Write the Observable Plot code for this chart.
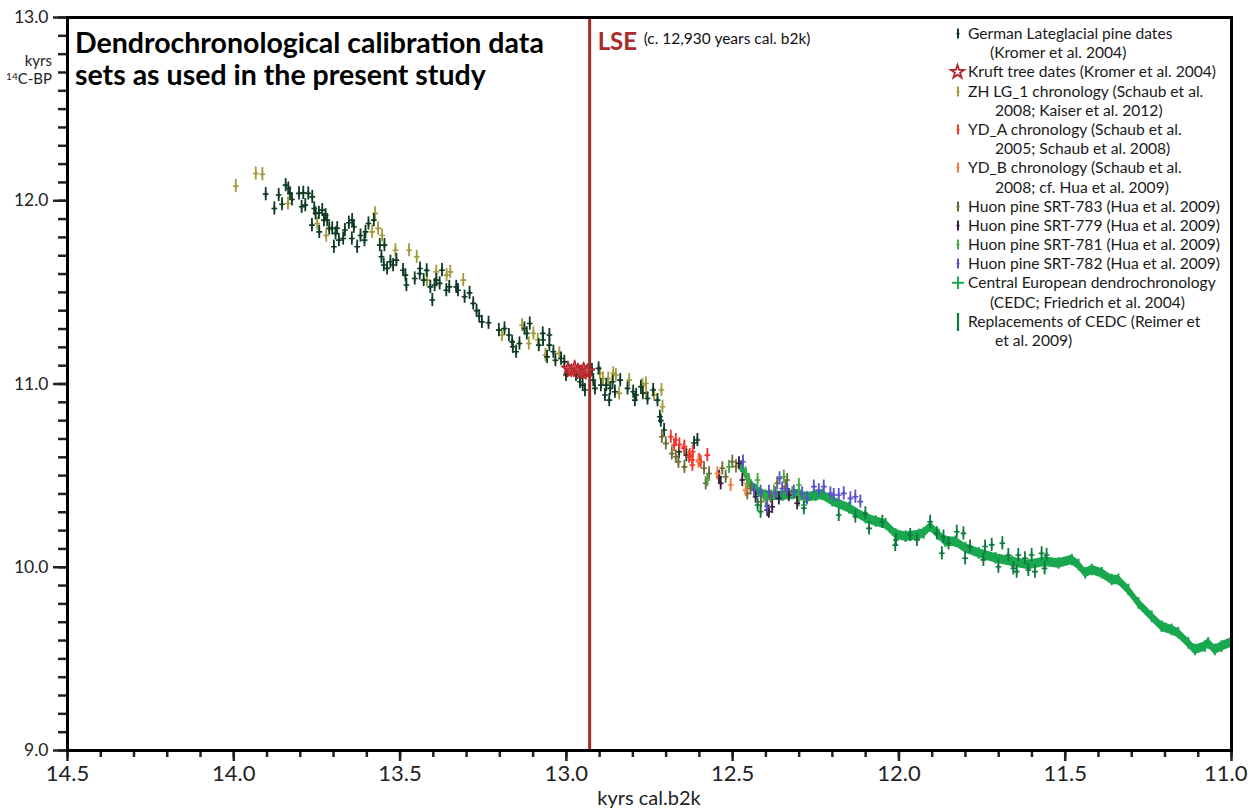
<!DOCTYPE html>
<html>
<head>
<meta charset="utf-8">
<script src="https://cdn.jsdelivr.net/npm/d3@7"></script>
<script src="https://cdn.jsdelivr.net/npm/@observablehq/plot@0.6"></script>
<style>
  html, body { margin: 0; padding: 0; background: #fff; }
  #wrap { position: relative; width: 1248px; height: 809px; overflow: hidden; font-family: Lato, "Open Sans", sans-serif; }
  #chart svg { display: block; }
  #legend { position: absolute; left: 946px; top: 24px; font-size: 15.6px; color: #1a1a1a; line-height: 19.2px; }
  .row { display: flex; align-items: center; height: 19.2px; white-space: nowrap; }
  .g { width: 22px; height: 19.2px; display: inline-block; flex: none; }
  .title { position: absolute; left: 75px; top: 26px; font-size: 28.5px; font-weight: bold; line-height: 32px; color: #000; white-space: nowrap; }
  .yunit { position: absolute; right: 1196px; font-size: 15px; color: #222; text-align: right; white-space: nowrap; line-height: 16px; }
  .xlab { position: absolute; left: 649px; top: 785px; transform: translateX(-50%); font-size: 20px; color: #222; white-space: nowrap; }
</style>
</head>
<body>
<div id="wrap">
  <div id="chart"></div>
  <div class="title">Dendrochronological calibration data<br>sets as used in the present study</div>
  <div class="yunit" style="top:52px">kyrs</div>
  <div class="yunit" style="top:68px"><span style="font-size:10px;vertical-align:4px">14</span>C-BP</div>
  <div class="xlab">kyrs cal.b2k</div>
  <div id="legend"></div>
</div>
<script>
// ---- data: [kyrs cal. b2k, kyrs 14C BP] ----
const germanPine = [[13.904,12.036],[13.878,11.958],[13.865,12.031],[13.855,11.981],[13.844,12.085],[13.836,12.067],[13.831,12.040],[13.825,12.007],[13.804,12.040],[13.796,11.967],[13.791,12.043],[13.785,11.976],[13.776,12.040],[13.764,12.021],[13.758,11.958],[13.765,11.867],[13.754,11.931],[13.744,11.934],[13.743,11.830],[13.734,11.949],[13.729,11.894],[13.724,11.921],[13.719,11.894],[13.713,11.849],[13.704,11.849],[13.699,11.749],[13.694,11.822],[13.689,11.850],[13.684,11.785],[13.671,11.794],[13.666,11.840],[13.654,11.880],[13.645,11.794],[13.644,11.894],[13.639,11.858],[13.629,11.749],[13.619,11.810],[13.607,11.785],[13.604,11.830],[13.595,11.876],[13.579,11.894],[13.561,11.758],[13.556,11.694],[13.547,11.758],[13.549,11.649],[13.539,11.631],[13.529,11.667],[13.521,11.649],[13.511,11.676],[13.491,11.621],[13.484,11.594],[13.481,11.540],[13.456,11.576],[13.441,11.603],[13.440,11.630],[13.429,11.567],[13.420,11.620],[13.409,11.530],[13.403,11.458],[13.396,11.540],[13.391,11.567],[13.381,11.549],[13.374,11.621],[13.361,11.512],[13.352,11.530],[13.331,11.530],[13.326,11.512],[13.306,11.476],[13.291,11.497],[13.280,11.440],[13.270,11.400],[13.262,11.370],[13.254,11.339],[13.234,11.334],[13.203,11.294],[13.186,11.303],[13.173,11.267],[13.163,11.230],[13.161,11.203],[13.151,11.176],[13.141,11.221],[13.126,11.303],[13.119,11.276],[13.110,11.330],[13.083,11.212],[13.071,11.276],[13.070,11.240],[13.051,11.267],[13.051,11.212],[13.058,11.148],[13.039,11.176],[13.033,11.130],[13.016,11.139],[13.006,11.121],[13.001,11.049],[12.994,11.076],[12.971,11.049],[12.959,11.012],[12.951,10.994],[12.944,10.967],[12.923,11.076],[12.919,11.021],[12.914,10.976],[12.903,11.085],[12.896,10.994],[12.884,10.940],[12.880,10.994],[12.871,10.912],[12.868,10.976],[12.861,11.012],[12.854,10.958],[12.838,11.021],[12.816,10.976],[12.799,10.958],[12.794,10.912],[12.790,10.940],[12.776,10.985],[12.770,10.950],[12.756,10.921],[12.739,10.967],[12.726,10.912],[12.719,10.821],[12.716,10.800],[12.706,10.749],[12.661,10.630],[12.639,10.612],[12.616,10.678],[12.606,10.694]];
const kruftTrees = [[12.995,11.085],[12.985,11.070],[12.975,11.090],[12.965,11.075],[12.955,11.060],[12.948,11.080],[12.940,11.065],[12.935,11.072]];
const zhLG1 = [[13.994,12.080],[13.934,12.149],[13.914,12.145],[13.837,11.985],[13.749,11.876],[13.722,11.810],[13.584,11.830],[13.575,11.931],[13.566,11.849],[13.554,11.810],[13.514,11.730],[13.473,11.730],[13.450,11.694],[13.419,11.567],[13.391,11.612],[13.360,11.594],[13.349,11.612],[13.310,11.567],[13.194,11.267],[13.133,11.321],[13.113,11.221],[13.099,11.276],[13.086,11.240],[13.063,11.158],[13.021,11.167],[12.941,11.058],[12.899,11.058],[12.890,11.030],[12.874,11.030],[12.859,11.058],[12.851,11.049],[12.841,10.949],[12.811,11.021],[12.771,10.994],[12.761,11.003],[12.760,10.950],[12.736,10.940],[12.714,10.967],[12.711,10.876]];
const ydA = [[12.686,10.712],[12.676,10.667],[12.671,10.694],[12.660,10.670],[12.646,10.649],[12.645,10.658],[12.631,10.603],[12.629,10.612],[12.621,10.585],[12.621,10.558],[12.620,10.630],[12.601,10.585],[12.596,10.576],[12.576,10.612]];
const ydB = [[12.603,10.576],[12.546,10.512],[12.506,10.449],[12.461,10.421]];
const srt783 = [[12.713,10.712],[12.701,10.676],[12.683,10.621],[12.671,10.603],[12.663,10.576],[12.645,10.548],[12.586,10.540],[12.581,10.458],[12.571,10.512],[12.540,10.490],[12.531,10.540],[12.521,10.494],[12.501,10.576],[12.490,10.550],[12.456,10.403],[12.446,10.430],[12.415,10.358],[12.386,10.385],[12.366,10.458],[12.341,10.440],[12.336,10.476]];
const srt779 = [[12.541,10.494],[12.536,10.458],[12.481,10.567],[12.471,10.476],[12.431,10.385],[12.396,10.312],[12.391,10.303],[12.381,10.330],[12.361,10.376],[12.331,10.394],[12.306,10.349]];
const srt781 = [[12.576,10.476],[12.511,10.548],[12.461,10.512],[12.456,10.458],[12.451,10.476],[12.425,10.476],[12.401,10.367],[12.376,10.412],[12.346,10.494],[12.321,10.403],[12.301,10.367],[12.301,10.449],[12.286,10.340]];
const srt782 = [[12.469,10.576],[12.436,10.421],[12.416,10.412],[12.396,10.330],[12.391,10.412],[12.371,10.403],[12.359,10.485],[12.351,10.430],[12.336,10.421],[12.316,10.412],[12.291,10.403],[12.276,10.376],[12.256,10.440],[12.241,10.420],[12.226,10.440],[12.206,10.403],[12.196,10.394],[12.181,10.394],[12.166,10.403],[12.146,10.376],[12.131,10.385],[12.116,10.358]];
const cedc = [[12.475,10.550],[12.460,10.505],[12.450,10.465],[12.430,10.420],[12.400,10.390],[12.350,10.390],[12.300,10.400],[12.280,10.380],[12.250,10.390],[12.230,10.395],[12.200,10.360],[12.150,10.322],[12.100,10.268],[12.070,10.250],[12.040,10.235],[12.010,10.180],[11.980,10.167],[11.940,10.176],[11.925,10.185],[11.905,10.221],[11.880,10.176],[11.860,10.139],[11.830,10.139],[11.800,10.104],[11.760,10.076],[11.710,10.049],[11.660,10.030],[11.610,10.012],[11.560,10.030],[11.520,10.021],[11.480,10.039],[11.460,10.012],[11.440,9.967],[11.420,9.985],[11.390,9.967],[11.360,9.931],[11.340,9.931],[11.310,9.876],[11.280,9.803],[11.240,9.730],[11.210,9.676],[11.180,9.658],[11.160,9.640],[11.130,9.585],[11.110,9.549],[11.080,9.567],[11.070,9.585],[11.050,9.549],[11.030,9.567],[11.000,9.590]];
const cedcReplacements = [[12.425,10.340],[12.416,10.303],[12.286,10.322],[12.181,10.285],[12.131,10.276],[12.101,10.294],[12.090,10.212],[12.050,10.248],[12.009,10.149],[12.011,10.121],[11.966,10.176],[11.946,10.149],[11.906,10.248],[11.886,10.185],[11.871,10.076],[11.866,10.167],[11.851,10.131],[11.826,10.194],[11.806,10.185],[11.801,10.049],[11.786,10.113],[11.746,10.040],[11.741,10.113],[11.721,10.122],[11.701,10.003],[11.689,10.131],[11.671,10.067],[11.656,9.994],[11.646,9.976],[11.641,10.067],[11.621,10.049],[11.611,9.985],[11.601,10.067],[11.591,9.976],[11.571,10.076],[11.562,9.994],[11.556,10.067]];
const errPoint = 0.036;   // typical 1-sigma (kyrs)
const errCEDC = 0.026;
const lseAge = [12.93];
const xMajorTicks = [14.5, 14.0, 13.5, 13.0, 12.5, 12.0, 11.5, 11.0];
const yMajorTicks = [9, 10, 11, 12, 13];

const colors = {
  german: "#0f3b25", kruft: "#b3262c", zh: "#a39c3c", ydA: "#f0372d", ydB: "#f47b3b",
  s783: "#6d6b33", s779: "#3b1d3f", s781: "#45a845", s782: "#5a52c8", cedc: "#19a84f", repl: "#0d7a3d", lse: "#aa2a2a"
};

function errMarks(data, color) {
  return [
    Plot.ruleX(data, {x: d => d[0], y1: d => d[1] - errPoint, y2: d => d[1] + errPoint, stroke: color, strokeWidth: 1.8}),
    Plot.dot(data, {x: d => d[0], y: d => d[1], symbol: "plus", r: 2, stroke: color, strokeWidth: 1.6})
  ];
}

const xMinor = d3.range(110, 146, 1).map(v => v / 10);
const yMinor = d3.range(90, 131, 1).map(v => v / 10);
const fmt = d3.format(".1f");
const noLabel = () => "";
const xEdge = xMajorTicks.slice(-1);          // last label kept inside the page
const xInner = xMajorTicks.slice(0, -1);

const chart = Plot.plot({
  width: 1248, height: 809,
  marginLeft: 67, marginRight: 17, marginTop: 17, marginBottom: 59,
  style: {fontFamily: "Lato, 'Open Sans', sans-serif", color: "#222", background: "white", overflow: "visible"},
  x: {domain: [14.5, 11.0], axis: null},
  y: {domain: [9, 13], axis: null},
  marks: [
    // CEDC band
    Plot.areaY(cedc, {x: d => d[0], y1: d => d[1] - errCEDC, y2: d => d[1] + errCEDC, fill: colors.cedc, curve: "linear"}),
    Plot.ruleX(cedc, {x: d => d[0], y1: d => d[1] - errCEDC - 0.006, y2: d => d[1] + errCEDC + 0.006, stroke: colors.cedc, strokeWidth: 2}),
    ...errMarks(zhLG1, colors.zh),
    ...errMarks(germanPine, colors.german),
    ...errMarks(srt783, colors.s783),
    ...errMarks(srt781, colors.s781),
    ...errMarks(srt779, colors.s779),
    ...errMarks(srt782, colors.s782),
    ...errMarks(ydA, colors.ydA),
    ...errMarks(ydB, colors.ydB),
    ...errMarks(cedcReplacements, colors.repl),
    Plot.ruleX(kruftTrees, {x: d => d[0], y1: d => d[1] - errPoint, y2: d => d[1] + errPoint, stroke: colors.kruft, strokeWidth: 1.8}),
    Plot.dot(kruftTrees, {x: d => d[0], y: d => d[1], symbol: "star", r: 4, fill: "#d85050", stroke: colors.kruft, strokeWidth: 1.2}),
    // LSE
    Plot.ruleX(lseAge, {x: d => d, stroke: colors.lse, strokeWidth: 3}),
    Plot.text(lseAge, {x: d => d, frameAnchor: "top", dy: 25, dx: 8, text: () => "LSE", textAnchor: "start", fontWeight: "bold", fontSize: 24, fill: colors.lse, lineAnchor: "middle"}),
    Plot.text(lseAge, {x: d => d, frameAnchor: "top", dy: 22, dx: 54, text: () => "(c. 12,930 years cal. b2k)", textAnchor: "start", fontSize: 15.5, fill: "#111", lineAnchor: "middle"}),
    // tick labels
    Plot.text(xInner, {x: d => d, frameAnchor: "bottom", dy: 23, text: d => fmt(d), fontSize: 22, fill: "#222", lineAnchor: "middle"}),
    Plot.text(xEdge, {x: d => d, frameAnchor: "bottom", dy: 23, dx: 16, text: d => fmt(d), textAnchor: "end", fontSize: 22, fill: "#222", lineAnchor: "middle"}),
    Plot.text(yMajorTicks, {y: d => d, frameAnchor: "left", dx: -19, text: d => fmt(d), textAnchor: "end", fontSize: 17.5, fill: "#222", lineAnchor: "middle"}),
    // axes (ticks only)
    Plot.axisX({ticks: xMinor, tickSize: 7, tickFormat: noLabel, strokeWidth: 2.5, label: null}),
    Plot.axisX({ticks: xMajorTicks, tickSize: 11, tickFormat: noLabel, strokeWidth: 2.5, label: null}),
    Plot.axisY({ticks: yMinor, tickSize: 9, tickFormat: noLabel, strokeWidth: 2.5, label: null}),
    Plot.axisY({ticks: yMajorTicks, tickSize: 14, tickFormat: noLabel, strokeWidth: 2.5, label: null}),
    Plot.frame({stroke: "#000", strokeWidth: 3})
  ]
});
document.getElementById("chart").appendChild(chart);

// ---- legend ----
const legendRows = [
  ["bar", colors.german, "German Lateglacial pine dates"], [null, null, "(Kromer et al. 2004)", 22],
  ["star", colors.kruft, "Kruft tree dates (Kromer et al. 2004)"],
  ["bar", colors.zh, "ZH LG_1 chronology (Schaub et al."], [null, null, "2008; Kaiser et al. 2012)", 27],
  ["bar", colors.ydA, "YD_A chronology (Schaub et al."], [null, null, "2005; Schaub et al. 2008)", 27],
  ["bar", colors.ydB, "YD_B chronology (Schaub et al."], [null, null, "2008; cf. Hua et al. 2009)", 27],
  ["bar", colors.s783, "Huon pine SRT-783 (Hua et al. 2009)"],
  ["bar", colors.s779, "Huon pine SRT-779 (Hua et al. 2009)"],
  ["bar", colors.s781, "Huon pine SRT-781 (Hua et al. 2009)"],
  ["bar", colors.s782, "Huon pine SRT-782 (Hua et al. 2009)"],
  ["plus", colors.cedc, "Central European dendrochronology"], [null, null, "(CEDC; Friedrich et al. 2004)", 22],
  ["long", colors.repl, "Replacements of CEDC (Reimer et"], [null, null, "et al. 2009)", 27]
];
const glyph = (type, c) => {
  if (type === "bar") return `<svg class="g" viewBox="0 0 22 19.2"><line x1="12" x2="12" y1="4.5" y2="14.5" stroke="${c}" stroke-width="2"/><line x1="10.5" x2="13.5" y1="9.6" y2="9.6" stroke="${c}" stroke-width="1.5"/></svg>`;
  if (type === "star") return `<svg class="g" viewBox="0 0 22 19.2"><path transform="translate(11.5,10)" d="${d3.symbol(d3.symbolStar, 55)()}" fill="white" stroke="${c}" stroke-width="1.8"/></svg>`;
  if (type === "plus") return `<svg class="g" viewBox="0 0 22 19.2"><line x1="12" x2="12" y1="3.5" y2="16" stroke="${c}" stroke-width="2"/><line x1="6" x2="18" y1="9.8" y2="9.8" stroke="${c}" stroke-width="2"/></svg>`;
  if (type === "long") return `<svg class="g" viewBox="0 0 22 19.2"><line x1="12" x2="12" y1="1" y2="19" stroke="${c}" stroke-width="2.2"/></svg>`;
  return "";
};
document.getElementById("legend").innerHTML = legendRows.map(([t, c, txt, ind]) =>
  t ? `<div class="row">${glyph(t, c)}<span>${txt}</span></div>`
    : `<div class="row"><span class="g"></span><span style="padding-left:${ind}px">${txt}</span></div>`
).join("");
</script>
</body>
</html>
